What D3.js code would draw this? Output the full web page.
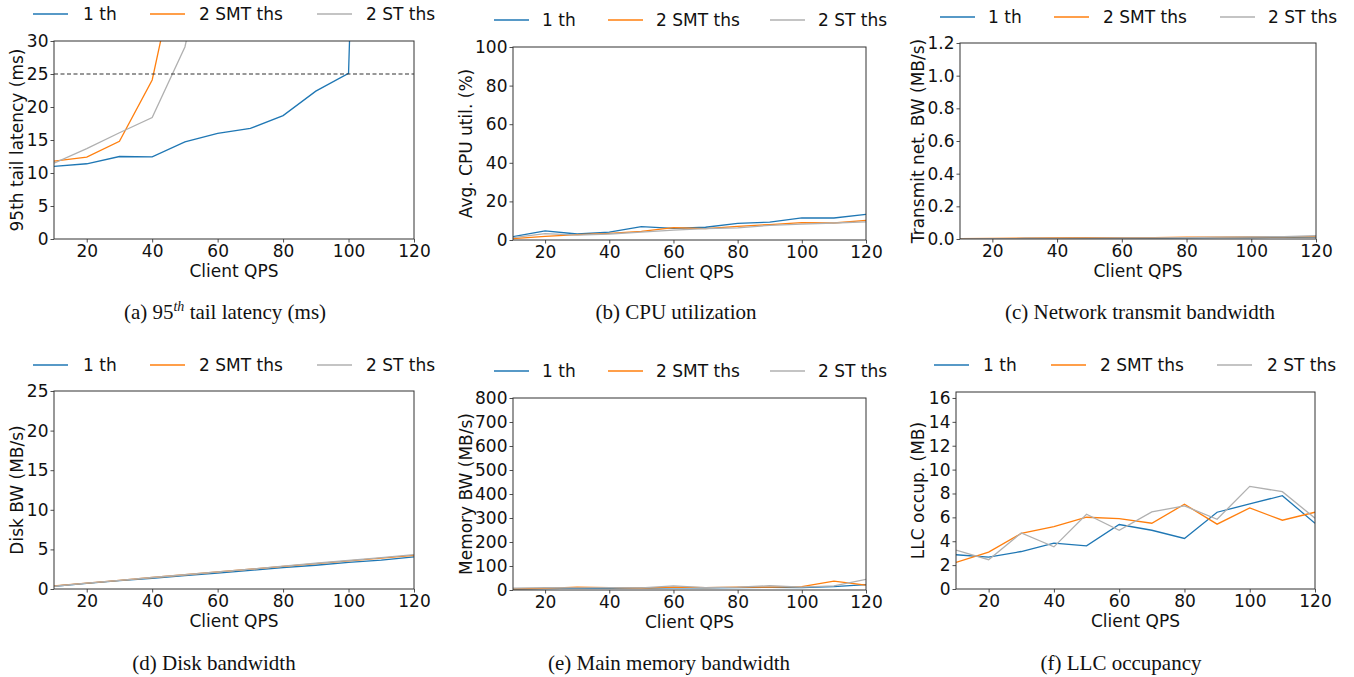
<!DOCTYPE html>
<html><head><meta charset="utf-8">
<script src="https://cdn.jsdelivr.net/npm/d3@7"></script>
<style>body{margin:0;background:#fff}svg{display:block}</style>
</head><body><svg id="c" width="1354" height="677"></svg>
<script>
const qps = [10,20,30,40,50,60,70,80,90,100,110,120];
const seriesNames = ["1 th","2 SMT ths","2 ST ths"];
const seriesColors = ["#1f77b4","#ff7f0e","#b0b0b0"];

// (a) 95th tail latency (ms)
const latency1 = [11.0,11.4,12.5,12.45,14.7,16.0,16.75,18.7,22.4,25.1,190,400];
const latencySMT = [11.8,12.4,14.8,24.1,47,90,150,200,250,300,350,400];
const latencyST = [11.5,13.7,16.1,18.4,29.1,51,90,150,200,250,300,350];
// (b) CPU utilization
const cpu1 = [1.7,4.7,3.1,4.1,6.9,6.0,6.6,8.6,9.3,11.5,11.4,13.3];
const cpuSMT = [0.7,1.9,2.8,3.4,4.5,6.4,5.9,7.1,8.0,9.0,8.8,10.2];
const cpuST = [1.2,3.3,2.5,3.1,4.1,5.1,5.9,6.3,7.6,8.2,8.8,9.4];
// (c) Network transmit bandwidth
const net1 = [0.001,0.002,0.003,0.004,0.005,0.005,0.006,0.007,0.008,0.009,0.010,0.011];
const netSMT = [0.002,0.003,0.005,0.007,0.008,0.009,0.009,0.011,0.012,0.013,0.013,0.015];
const netST = [0.001,0.002,0.003,0.004,0.005,0.006,0.007,0.009,0.011,0.013,0.015,0.020];
// (d) Disk bandwidth
const disk1 = [0.35,0.7,1.05,1.35,1.7,2.0,2.35,2.7,3.0,3.35,3.65,4.05];
const diskSMT = [0.4,0.75,1.1,1.45,1.8,2.15,2.5,2.85,3.2,3.55,3.9,4.25];
const diskST = [0.35,0.75,1.1,1.45,1.8,2.15,2.5,2.9,3.25,3.6,3.95,4.35];
// (e) Main memory bandwidth
const mem1 = [4,6,8,7,8,9,9,10,11,10,14,22];
const memSMT = [5,7,12,10,8,12,10,12,12,14,37,20];
const memST = [8,10,9,10,9,17,10,12,18,12,17,44];
// (f) LLC occupancy
const llc1 = [2.87,2.67,3.14,3.84,3.62,5.4,4.92,4.23,6.43,7.12,7.82,5.5];
const llcSMT = [2.23,3.09,4.65,5.23,6.01,5.9,5.51,7.1,5.43,6.79,5.76,6.43];
const llcST = [3.26,2.45,4.7,3.53,6.26,4.92,6.46,6.96,5.84,8.6,8.15,5.93];

const xTicks = [20,40,60,80,100,120];
const ticksA = [0,5,10,15,20,25,30];
const ticksB = [0,20,40,60,80,100];
const ticksC = [0,0.2,0.4,0.6,0.8,1.0,1.2];
const ticksD = [0,5,10,15,20,25];
const ticksE = [0,100,200,300,400,500,600,700,800];
const ticksF = [0,2,4,6,8,10,12,14,16];
const sloLatency = 25;

const panels = [
 {L:54,R:414,T:41,B:239, ymax:30, yt:ticksA, fmt:d3.format("d"), ylab:"95th tail latency (ms)", ylx:17, data:[latency1,latencySMT,latencyST], slo:true,
  leg:{y:14, lx:[33,150,317], tx:[83,199,366]}, cap:"a", capx:225, capy:319},
 {L:513,R:866,T:47,B:240, ymax:100, yt:ticksB, fmt:d3.format("d"), ylab:"Avg. CPU util. (%)", ylx:466, data:[cpu1,cpuSMT,cpuST],
  leg:{y:20, lx:[494,608,770], tx:[542,656,818]}, cap:"(b) CPU utilization", capx:676, capy:319},
 {L:960,R:1316,T:43,B:239, ymax:1.2, yt:ticksC, fmt:d3.format(".1f"), ylab:"Transmit net. BW (MB/s)", ylx:918, data:[net1,netSMT,netST],
  leg:{y:17, lx:[940,1054,1220], tx:[988,1103,1268]}, cap:"(c) Network transmit bandwidth", capx:1140, capy:319},
 {L:54,R:414,T:391,B:589, ymax:25, yt:ticksD, fmt:d3.format("d"), ylab:"Disk BW (MB/s)", ylx:17, data:[disk1,diskSMT,diskST],
  leg:{y:365, lx:[33,150,317], tx:[83,199,366]}, cap:"(d) Disk bandwidth", capx:214, capy:670},
 {L:513,R:866,T:398,B:590, ymax:800, yt:ticksE, fmt:d3.format("d"), ylab:"Memory BW (MB/s)", ylx:466, data:[mem1,memSMT,memST],
  leg:{y:371, lx:[494,608,770], tx:[542,656,818]}, cap:"(e) Main memory bandwidth", capx:669, capy:670},
 {L:956,R:1315,T:392,B:589, ymax:16.5, yt:ticksF, fmt:d3.format("d"), ylab:"LLC occup. (MB)", ylx:918, data:[llc1,llcSMT,llcST],
  leg:{y:365, lx:[934,1051,1217], tx:[983,1100,1267]}, cap:"(f) LLC occupancy", capx:1121, capy:670}
];

const svg = d3.select("#c");
const FONT = "DejaVu Sans, sans-serif";
const FS = 17;

panels.forEach((p,pi)=>{
  const x = d3.scaleLinear().domain([10,120]).range([p.L,p.R]);
  const y = d3.scaleLinear().domain([0,p.ymax]).range([p.B,p.T]);
  const g = svg.append("g");
  const clipId = "clip"+pi;
  g.append("clipPath").attr("id",clipId).append("rect")
    .attr("x",p.L).attr("y",p.T).attr("width",p.R-p.L).attr("height",p.B-p.T);

  // axes
  const xa = g.append("g").attr("transform",`translate(0,${p.B})`)
    .call(d3.axisBottom(x).tickValues(xTicks).tickSize(3.5).tickPadding(2).tickFormat(d3.format("d")));
  const ya = g.append("g").attr("transform",`translate(${p.L},0)`)
    .call(d3.axisLeft(y).tickValues(p.yt).tickSize(3.5).tickPadding(2).tickFormat(p.fmt));
  [xa,ya].forEach(a=>{
    a.select(".domain").remove();
    a.selectAll("line").attr("stroke","#222").attr("stroke-width",0.8);
    a.selectAll("text").attr("font-family",FONT).attr("font-size",FS).attr("fill","#111");
  });

  // lines
  const line = d3.line().x((d,i)=>x(qps[i])).y(d=>y(d));
  const lg = g.append("g").attr("clip-path",`url(#${clipId})`);
  p.data.forEach((s,si)=>{
    lg.append("path").attr("d",line(s)).attr("fill","none")
      .attr("stroke",seriesColors[si]).attr("stroke-width",1.3);
  });
  if(p.slo){
    lg.append("line").attr("x1",p.L).attr("x2",p.R).attr("y1",y(sloLatency)).attr("y2",y(sloLatency))
      .attr("stroke","#333").attr("stroke-width",1.1).attr("stroke-dasharray","4,2.5");
  }

  // frame
  g.append("rect").attr("x",p.L).attr("y",p.T).attr("width",p.R-p.L).attr("height",p.B-p.T)
    .attr("fill","none").attr("stroke","#333").attr("stroke-width",1);

  // axis labels
  g.append("text").attr("x",(p.L+p.R)/2).attr("y",p.B+38).attr("text-anchor","middle")
    .attr("font-family",FONT).attr("font-size",FS).attr("fill","#111").text("Client QPS");
  g.append("text").attr("transform",`translate(${p.ylx},${(p.T+p.B)/2}) rotate(-90)`)
    .attr("text-anchor","middle").attr("dy","0.35em")
    .attr("font-family",FONT).attr("font-size",FS).attr("fill","#111").text(p.ylab);

  // legend
  seriesNames.forEach((n,si)=>{
    g.append("line").attr("x1",p.leg.lx[si]).attr("x2",p.leg.lx[si]+35)
      .attr("y1",p.leg.y).attr("y2",p.leg.y).attr("stroke",seriesColors[si]).attr("stroke-width",1.3);
    g.append("text").attr("x",p.leg.tx[si]).attr("y",p.leg.y).attr("dy","0.35em")
      .attr("font-family",FONT).attr("font-size",FS).attr("fill","#111").text(n);
  });

  // caption
  const cap = g.append("text").attr("x",p.capx).attr("y",p.capy).attr("text-anchor","middle")
    .attr("font-family","Liberation Serif, Times New Roman, serif").attr("font-size",21).attr("fill","#111");
  if(p.cap==="a"){
    cap.append("tspan").text("(a) 95");
    cap.append("tspan").attr("font-style","italic").attr("font-size",14).attr("dy",-8).text("th");
    cap.append("tspan").attr("dy",8).text(" tail latency (ms)");
  } else cap.text(p.cap);
});
</script></body></html>
